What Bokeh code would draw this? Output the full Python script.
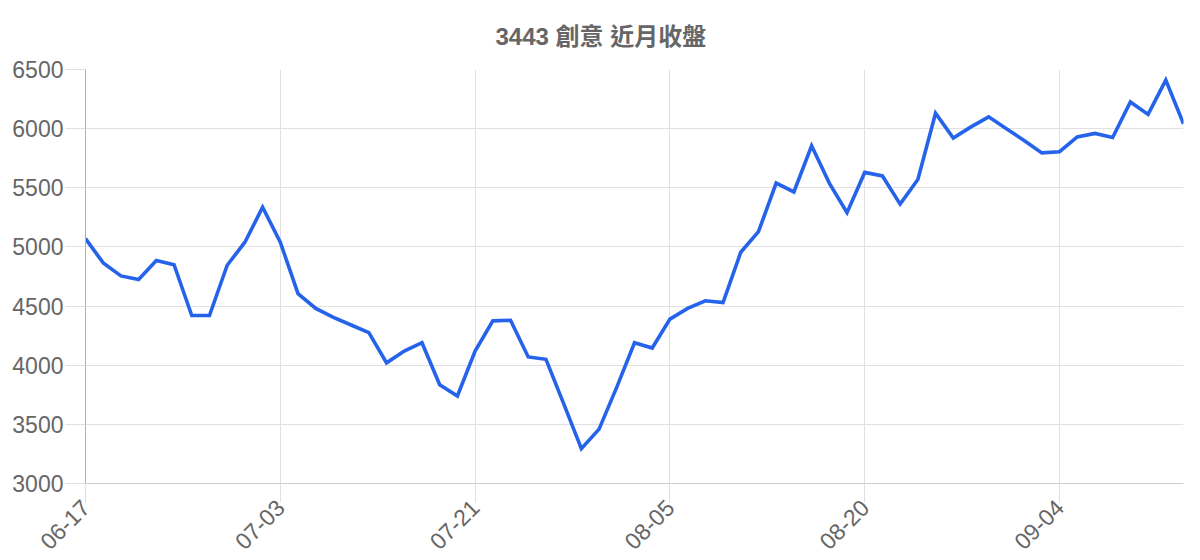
import math
from bokeh.plotting import figure
from bokeh.models import FixedTicker, ColumnDataSource, Range1d
from bokeh.embed import file_html
from bokeh.resources import INLINE

title_text = "3443 創意 近月收盤"

dates = [
    "06-17", "06-18", "06-19", "06-23", "06-24", "06-25", "06-26", "06-27", "06-30", "07-01", "07-02",
    "07-03", "07-04", "07-08", "07-09", "07-10", "07-11", "07-14", "07-15", "07-16", "07-17", "07-18",
    "07-21", "07-22", "07-23", "07-24", "07-25", "07-28", "07-29", "07-30", "07-31", "08-01", "08-04",
    "08-05", "08-06", "08-07", "08-08", "08-11", "08-12", "08-13", "08-14", "08-15", "08-18", "08-19",
    "08-20", "08-21", "08-22", "08-25", "08-26", "08-27", "08-28", "08-29", "09-01", "09-02", "09-03",
    "09-04", "09-05", "09-08", "09-09", "09-10", "09-11", "09-12", "09-15",
]

closes = [
    5070, 4865, 4755, 4725, 4885, 4850, 4420, 4420, 4845, 5040, 5335,
    5040, 4605, 4480, 4405, 4340, 4275, 4020, 4120, 4190, 3835, 3740,
    4120, 4375, 4380, 4070, 4050, 3675, 3295, 3460, 3815, 4190, 4145,
    4390, 4480, 4545, 4530, 4955, 5130, 5540, 5465, 5855, 5540, 5290,
    5630, 5600, 5362, 5570, 6130, 5920, 6015, 6100, 6000, 5900, 5795,
    5805, 5930, 5960, 5925, 6225, 6120, 6410, 6040,
]

label_every = 11
y_ticks = [3000, 3500, 4000, 4500, 5000, 5500, 6000, 6500]

idx = list(range(len(dates)))
src = ColumnDataSource(dict(x=idx, y=closes, d=dates))

GRID = "#e0e0e0"
TXT = "#666666"
FONT = "Liberation Sans"

p = figure(
    width=1192, height=560,
    output_backend="svg", toolbar_location=None,
    x_range=Range1d(0, len(dates) - 1), y_range=Range1d(3000, 6500),
    min_border_left=85, min_border_right=9, min_border_top=69, min_border_bottom=60,
    title=title_text,
)
p.outline_line_color = None
p.background_fill_color = "white"

p.title.align = "left"
p.title.offset = 410
p.title.text_font = "Liberation Sans, Noto Sans CJK TC"
p.title.text_font_size = "24px"
p.title.text_font_style = "bold"
p.title.text_color = TXT
p.title.standoff = 40

p.line("x", "y", source=src, line_color="#2563eb", line_width=3.6, line_join="miter")

# x axis
xa = p.xaxis[0]
xa.ticker = FixedTicker(ticks=idx[::label_every])
xa.major_label_overrides = {i: dates[i] for i in idx[::label_every]}
xa.major_label_orientation = math.pi / 4
xa.major_label_text_font = FONT
xa.major_label_text_font_size = "23px"
xa.major_label_text_color = TXT
xa.axis_line_color = "#cccccc"
xa.major_tick_line_color = GRID
xa.major_tick_out = 19
xa.major_tick_in = 0
xa.minor_tick_line_color = None
xa.major_label_standoff = 1

# y axis
ya = p.yaxis[0]
ya.ticker = FixedTicker(ticks=y_ticks)
ya.major_label_text_font = FONT
ya.major_label_text_font_size = "23px"
ya.major_label_text_color = TXT
ya.axis_line_color = "#b0b0b0"
ya.major_tick_line_color = GRID
ya.major_tick_out = 20
ya.major_tick_in = 0
ya.minor_tick_line_color = None
ya.major_label_standoff = 2

p.xgrid.ticker = FixedTicker(ticks=idx[::label_every])
p.ygrid.ticker = FixedTicker(ticks=y_ticks)
p.xgrid.grid_line_color = GRID
p.ygrid.grid_line_color = GRID

open("out.html", "w").write(file_html(p, INLINE))
